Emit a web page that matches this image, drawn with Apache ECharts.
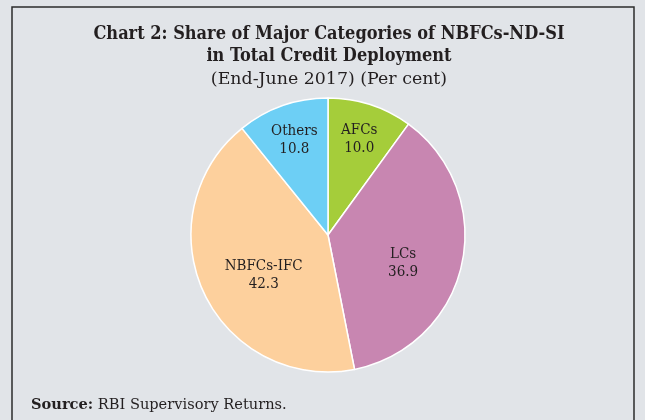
<!DOCTYPE html>
<html>
<head>
<meta charset="utf-8">
<script src="https://cdn.jsdelivr.net/npm/echarts@6/dist/echarts.min.js"></script>
<style>
  html, body { margin: 0; padding: 0; background: #e1e4e8; }
  #chart { width: 645px; height: 420px; }
</style>
</head>
<body>
<div id="chart"></div>
<script>
// categories and shares (per cent), clockwise from 12 o'clock
var categories = ['AFCs', 'LCs', 'NBFCs-IFC', 'Others'];
var shares = [10.0, 36.9, 42.3, 10.8];
var colors = ['#a5cd3a', '#c886b1', '#fdd09d', '#6dcff5'];
// small slices get their label further out than big ones
var smallSlices = ['AFCs', 'Others'];
// small nudges of the big slice labels
var labelNudge = { 'LCs': [-5, 10], 'NBFCs-IFC': [10, 5] };

var serifCond = '"DejaVu Serif Condensed", "DejaVu Serif", serif';
var serif = '"DejaVu Serif", serif';

function sliceData(filter) {
	return categories.map(function (name, i) {
		var show = filter ? filter(name) : false;
		return {
			name: name,
			value: shares[i],
			itemStyle: { color: filter ? 'rgba(0,0,0,0)' : colors[i] },
			label: { show: show }
		};
	});
}

function labelSeries(outer, filter) {
	return {
		type: 'pie',
		silent: true,
		center: [328, 235],
		radius: [0, outer],
		startAngle: 90,
		itemStyle: { borderWidth: 0 },
		label: {
			position: 'inside',
			formatter: function (p) { return p.name + '\n' + p.value.toFixed(1); },
			fontFamily: serifCond,
			fontSize: 15,
			lineHeight: 18,
			color: '#231f20'
		},
		labelLine: { show: false },
		labelLayout: function (p) {
			var n = labelNudge[categories[p.dataIndex]];
			return n ? { dx: n[0], dy: n[1] } : {};
		},
		data: sliceData(filter)
	};
}

var chart = echarts.init(document.getElementById('chart'));
var option = {
	animation: false,
	title: [{
		text: 'Chart 2: Share of Major Categories of NBFCs-ND-SI\nin Total Credit Deployment',
		subtext: '(End-June 2017) (Per cent)',
		left: 324,
		textAlign: 'center',
		top: 18,
		itemGap: 1,
		textStyle: {
			fontFamily: serifCond,
			fontWeight: 'bold',
			fontSize: 18,
			lineHeight: 22,
			color: '#231f20'
		},
		subtextStyle: {
			fontFamily: serif,
			fontSize: 17.4,
			lineHeight: 22,
			color: '#231f20'
		}
	}, {
		text: '{b|Source:} RBI Supervisory Returns.',
		left: 26,
		top: 393,
		textStyle: {
			rich: {
				b: { fontFamily: serif, fontWeight: 'bold', fontSize: 14.6, color: '#231f20' }
			},
			fontFamily: serif,
			fontWeight: 'normal',
			fontSize: 14.6,
			color: '#231f20'
		}
	}],
	graphic: [{
		type: 'rect',
		shape: { x: 12, y: 7, width: 622, height: 430 },
		style: { fill: null, stroke: '#2b2b2b', lineWidth: 1.5 },
		silent: true
	}],
	series: [{
		type: 'pie',
		center: [328, 235],
		radius: [0, 137],
		startAngle: 90,
		itemStyle: { borderColor: '#ffffff', borderWidth: 1.5 },
		label: { show: false },
		labelLine: { show: false },
		data: sliceData(null)
	},
	labelSeries(196, function (n) { return smallSlices.indexOf(n) >= 0; }),
	labelSeries(158, function (n) { return smallSlices.indexOf(n) < 0; })
	]
};
chart.setOption(option);

window.addEventListener('resize', function () {
	chart.resize();
});
</script>
</body>
</html>
